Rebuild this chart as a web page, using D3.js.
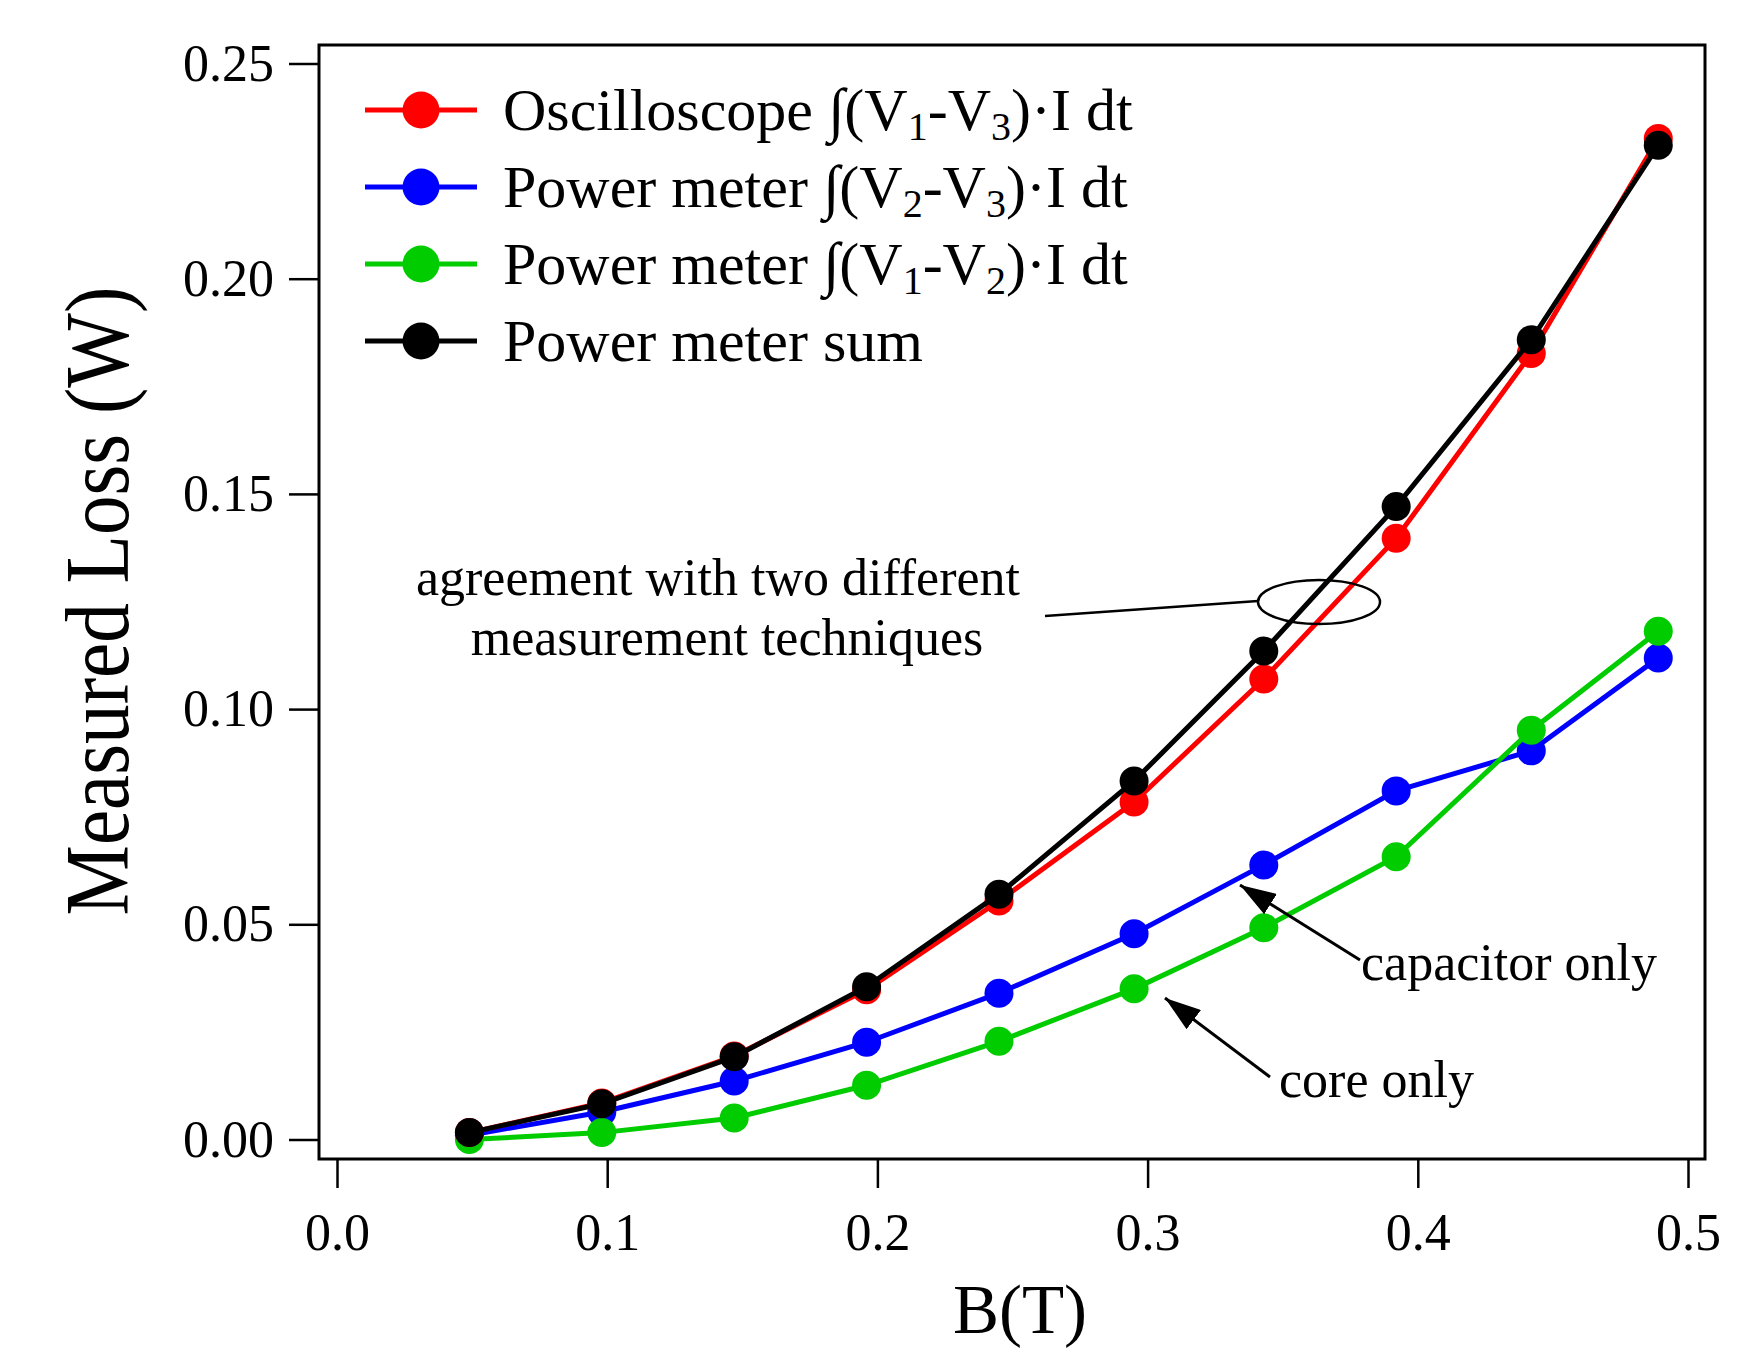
<!DOCTYPE html>
<html>
<head>
<meta charset="utf-8">
<script src="https://cdn.jsdelivr.net/npm/d3@7"></script>
<style>
  body { margin: 0; background: #fff; }
  text { font-family: "Liberation Serif", "Times New Roman", serif; }
</style>
</head>
<body>
<svg id="chart"></svg>
<script>
// B field (T)
var bField = [0.049, 0.098, 0.147, 0.196, 0.245, 0.295, 0.343, 0.392, 0.442, 0.489];

// measured loss (W)
var oscilloscope = [0.0016, 0.0085, 0.0194, 0.0348, 0.0554, 0.0784, 0.1070, 0.1397, 0.1826, 0.2326];
var meterCap     = [0.0010, 0.0064, 0.0136, 0.0226, 0.0340, 0.0478, 0.0638, 0.0810, 0.0903, 0.1119];
var meterCore    = [0.0000, 0.0016, 0.0050, 0.0126, 0.0228, 0.0350, 0.0492, 0.0657, 0.0951, 0.1181];
var meterSum     = [0.0016, 0.0083, 0.0192, 0.0355, 0.0570, 0.0833, 0.1135, 0.1471, 0.1858, 0.2310];

var xTicks = [0, 0.1, 0.2, 0.3, 0.4, 0.5];
var yTicks = [0, 0.05, 0.10, 0.15, 0.20, 0.25];

// legend labels: [text, subscript] pieces
var legendLabels = [
  [["Oscilloscope \u222B(V", 0], ["1", 1], ["-V", 0], ["3", 1], [")\u00B7I dt", 0]],
  [["Power meter \u222B(V", 0], ["2", 1], ["-V", 0], ["3", 1], [")\u00B7I dt", 0]],
  [["Power meter \u222B(V", 0], ["1", 1], ["-V", 0], ["2", 1], [")\u00B7I dt", 0]],
  [["Power meter sum", 0]]
];
var seriesColors = ["#ff0000", "#0000ff", "#00cc00", "#000000"];

var dimensions = {
  width: 1751,
  height: 1348,
  frame: { left: 319, top: 45, right: 1705, bottom: 1159 }
};

var svg = d3.select("#chart")
  .attr("width", dimensions.width)
  .attr("height", dimensions.height);

var x = d3.scaleLinear().domain([0, 0.5]).range([337, 1688]);
var y = d3.scaleLinear().domain([0, 0.25]).range([1139.5, 63.5]);

// plot frame
svg.append("rect")
  .attr("x", dimensions.frame.left)
  .attr("y", dimensions.frame.top)
  .attr("width", dimensions.frame.right - dimensions.frame.left)
  .attr("height", dimensions.frame.bottom - dimensions.frame.top)
  .attr("fill", "none")
  .attr("stroke", "black")
  .attr("stroke-width", 3);

// axes
var yAxis = svg.append("g")
  .attr("transform", "translate(" + (dimensions.frame.left - 1) + ",0)")
  .call(d3.axisLeft(y).tickValues(yTicks).tickFormat(d3.format(".2f")).tickSize(29).tickPadding(15));
var xAxis = svg.append("g")
  .attr("transform", "translate(0," + (dimensions.frame.bottom + 1) + ")")
  .call(d3.axisBottom(x).tickValues(xTicks).tickFormat(d3.format(".1f")).tickSize(28).tickPadding(25));

[xAxis, yAxis].forEach(function(ax) {
  ax.select(".domain").remove();
  ax.selectAll("line").attr("stroke", "black").attr("stroke-width", 2.5);
  ax.selectAll("text")
    .attr("fill", "black")
    .style("font-family", "'Liberation Serif', serif")
    .style("font-size", "52px");
});

// axis titles
svg.append("text")
  .text("B(T)")
  .attr("text-anchor", "middle")
  .attr("x", 1020)
  .attr("y", 1333)
  .style("font-size", "69px");

svg.append("text")
  .text("Measured Loss (W)")
  .attr("text-anchor", "middle")
  .attr("transform", "translate(128,601) rotate(-90) scale(0.88,1)")
  .style("font-size", "90px");

// series, drawn blue, green, red, black
var allSeries = [
  { values: oscilloscope, color: seriesColors[0] },
  { values: meterCap, color: seriesColors[1] },
  { values: meterCore, color: seriesColors[2] },
  { values: meterSum, color: seriesColors[3] }
];
var drawOrder = [1, 2, 0, 3];

var line = d3.line()
  .x(function(d) { return x(d[0]); })
  .y(function(d) { return y(d[1]); });

drawOrder.forEach(function(i) {
  var s = allSeries[i];
  var pts = bField.map(function(b, j) { return [b, s.values[j]]; });
  var g = svg.append("g");
  g.append("path")
    .datum(pts)
    .attr("d", line)
    .attr("fill", "none")
    .attr("stroke", s.color)
    .attr("stroke-width", 5);
  g.selectAll("circle")
    .data(pts)
    .enter().append("circle")
    .attr("cx", function(d) { return x(d[0]); })
    .attr("cy", function(d) { return y(d[1]); })
    .attr("r", 14.5)
    .attr("fill", s.color);
});

// legend
var legend = svg.append("g");
legendLabels.forEach(function(parts, i) {
  var ly = 110 + i * 77;
  legend.append("line")
    .attr("x1", 365).attr("x2", 477)
    .attr("y1", ly).attr("y2", ly)
    .attr("stroke", seriesColors[i])
    .attr("stroke-width", 5);
  legend.append("circle")
    .attr("cx", 421).attr("cy", ly).attr("r", 18.5)
    .attr("fill", seriesColors[i]);
  var t = legend.append("text")
    .attr("x", 503).attr("y", ly + 20)
    .attr("fill", "black")
    .style("font-size", "60px");
  var shifted = 0;
  parts.forEach(function(p) {
    var dy = p[1] ? 10 - shifted : -shifted;
    shifted = p[1] ? 10 : 0;
    t.append("tspan")
      .text(p[0])
      .attr("dy", dy)
      .attr("fill", "black")
      .style("font-size", p[1] ? "40px" : "60px");
  });
});

// annotations
svg.append("text")
  .text("agreement with two different")
  .attr("text-anchor", "middle")
  .attr("x", 718).attr("y", 595)
  .style("font-size", "52px");
svg.append("text")
  .text("measurement techniques")
  .attr("text-anchor", "middle")
  .attr("x", 727).attr("y", 655)
  .style("font-size", "52px");

svg.append("line")
  .attr("x1", 1045).attr("y1", 616)
  .attr("x2", 1258).attr("y2", 601)
  .attr("stroke", "black").attr("stroke-width", 2.5);
svg.append("ellipse")
  .attr("cx", 1319).attr("cy", 602)
  .attr("rx", 61).attr("ry", 22)
  .attr("fill", "none")
  .attr("stroke", "black").attr("stroke-width", 2.5);

svg.append("defs").append("marker")
  .attr("id", "arrow")
  .attr("viewBox", "0 0 12 8")
  .attr("refX", 12).attr("refY", 4)
  .attr("markerWidth", 12).attr("markerHeight", 8)
  .attr("markerUnits", "strokeWidth")
  .attr("orient", "auto")
  .append("path")
  .attr("d", "M0,0 L12,4 L0,8 Z")
  .attr("fill", "black");

svg.append("line")
  .attr("x1", 1360).attr("y1", 960)
  .attr("x2", 1240).attr("y2", 885)
  .attr("stroke", "black").attr("stroke-width", 3)
  .attr("marker-end", "url(#arrow)");
svg.append("text")
  .text("capacitor only")
  .attr("x", 1361).attr("y", 980)
  .style("font-size", "52px");

svg.append("line")
  .attr("x1", 1270).attr("y1", 1077)
  .attr("x2", 1165).attr("y2", 998)
  .attr("stroke", "black").attr("stroke-width", 3)
  .attr("marker-end", "url(#arrow)");
svg.append("text")
  .text("core only")
  .attr("x", 1279).attr("y", 1097)
  .style("font-size", "52px");
</script>
</body>
</html>
